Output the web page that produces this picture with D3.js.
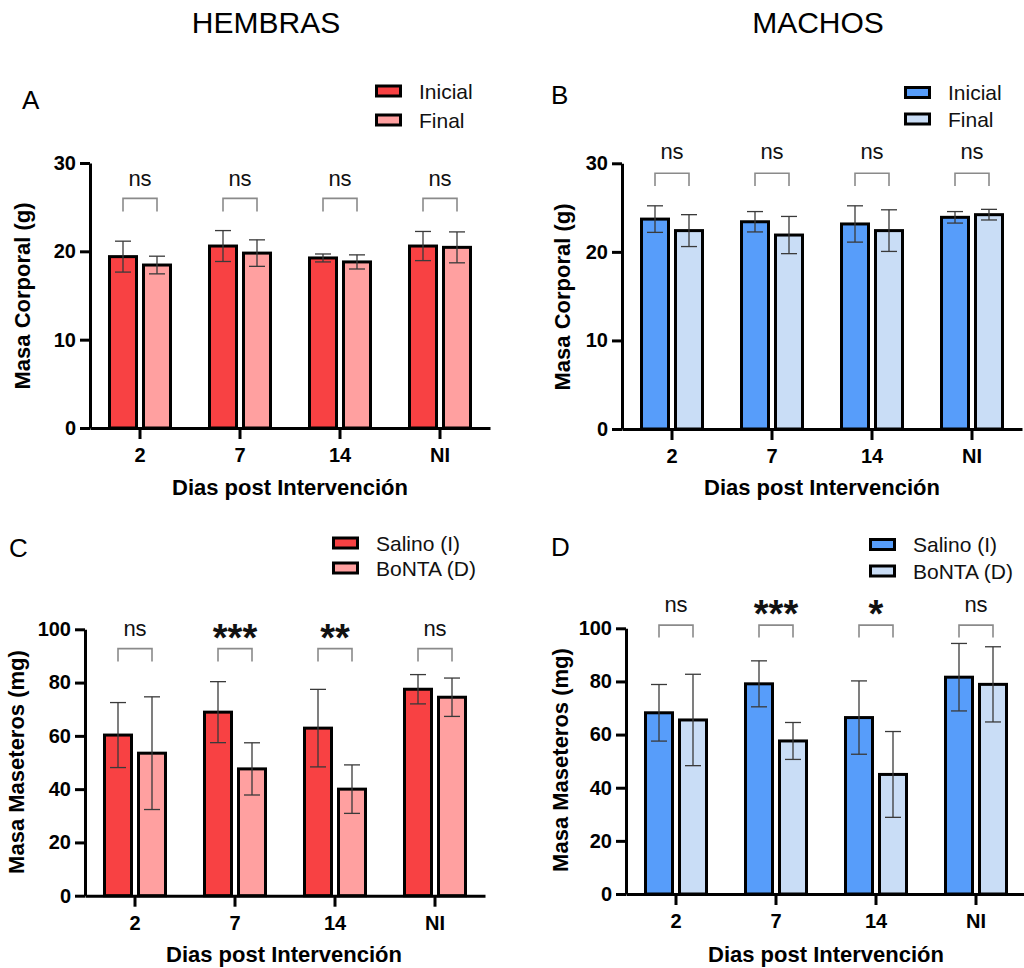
<!DOCTYPE html>
<html>
<head>
<meta charset="utf-8">
<script src="https://cdn.jsdelivr.net/npm/d3@7"></script>
<style>
  body { margin: 0; background: #fff; }
  svg { display: block; }
  text { font-family: "Liberation Sans", Arial, sans-serif; }
</style>
</head>
<body>
<svg id="chart" width="1024" height="968"></svg>
<script>
// categorias (dias post intervencion)
const days = ["2", "7", "14", "NI"];

// A - hembras, masa corporal (g)
const hemIniMean = [19.4, 20.6, 19.25, 20.6];
const hemIniSd   = [1.75, 1.75, 0.45, 1.65];
const hemFinMean = [18.45, 19.8, 18.8, 20.45];
const hemFinSd   = [1.0, 1.5, 0.8, 1.75];
const sigA = ["ns", "ns", "ns", "ns"];

// B - machos, masa corporal (g)
const macIniMean = [23.7, 23.4, 23.15, 23.9];
const macIniSd   = [1.5, 1.15, 2.05, 0.65];
const macFinMean = [22.4, 21.9, 22.4, 24.2];
const macFinSd   = [1.8, 2.1, 2.35, 0.6];
const sigB = ["ns", "ns", "ns", "ns"];

// C - hembras, masa maseteros (mg)
const hemSalMean = [60.3, 68.9, 62.9, 77.5];
const hemSalSd   = [12.2, 11.45, 14.55, 5.5];
const hemBonMean = [53.5, 47.6, 40.0, 74.5];
const hemBonSd   = [21.15, 9.8, 9.1, 7.2];
const sigC = ["ns", "***", "**", "ns"];

// D - machos, masa maseteros (mg)
const macSalMean = [68.2, 79.1, 66.4, 81.6];
const macSalSd   = [10.65, 8.65, 13.8, 12.7];
const macBonMean = [65.5, 57.6, 45.0, 78.9];
const macBonSd   = [17.2, 6.95, 16.15, 14.15];
const sigD = ["ns", "***", "*", "ns"];

const ticksMasa = [0, 10, 20, 30];
const ticksMaset = [0, 20, 40, 60, 80, 100];

const RED = "#f84143", PINK = "#ffa0a0", BLUE = "#579dfa", LBLUE = "#c9ddf6";

const svg = d3.select("#chart");

svg.append("text").attr("x", 266).attr("y", 33).attr("text-anchor", "middle")
  .attr("font-size", 30).text("HEMBRAS");
svg.append("text").attr("x", 818).attr("y", 33).attr("text-anchor", "middle")
  .attr("font-size", 30).text("MACHOS");

function drawPanel(p) {
  const g = svg.append("g");
  const x = d3.scaleBand().domain(days).range([p.x0, p.x0 + 400]);
  const y = d3.scaleLinear().domain([0, p.max]).range([p.y0, p.yTop]);
  const bw = 27;

  const series = [
    { mean: p.m1, sd: p.s1, fill: p.c1, off: -17 },
    { mean: p.m2, sd: p.s2, fill: p.c2, off: 17 }
  ];

  series.forEach(s => {
    const cx = (i) => x(days[i]) + x.bandwidth() / 2 + s.off;
    g.selectAll(null).data(s.mean).join("rect")
      .attr("x", (d, i) => cx(i) - bw / 2)
      .attr("y", d => y(d))
      .attr("width", bw)
      .attr("height", d => p.y0 - y(d))
      .attr("fill", s.fill)
      .attr("stroke", "#000")
      .attr("stroke-width", 3);

    // barras de error (media +- DE)
    const eb = g.selectAll(null).data(s.mean).join("g").attr("stroke", "#3a3a3a").attr("stroke-width", 1.3);
    eb.append("line")
      .attr("x1", (d, i) => cx(i)).attr("x2", (d, i) => cx(i))
      .attr("y1", (d, i) => y(d + s.sd[i])).attr("y2", (d, i) => y(d - s.sd[i]));
    eb.append("line")
      .attr("x1", (d, i) => cx(i) - 8).attr("x2", (d, i) => cx(i) + 8)
      .attr("y1", (d, i) => y(d + s.sd[i])).attr("y2", (d, i) => y(d + s.sd[i]));
    eb.append("line")
      .attr("x1", (d, i) => cx(i) - 8).attr("x2", (d, i) => cx(i) + 8)
      .attr("y1", (d, i) => y(d - s.sd[i])).attr("y2", (d, i) => y(d - s.sd[i]));
  });

  // corchetes de significancia
  const br = g.selectAll(".br").data(p.sig).join("g").attr("class", "br");
  br.append("path")
    .attr("d", (d, i) => {
      const c = x(days[i]) + x.bandwidth() / 2;
      return `M${c - 17},${y(p.legY)}V${y(p.brY)}H${c + 17}V${y(p.legY)}`;
    })
    .attr("fill", "none").attr("stroke", "#8a8a8a").attr("stroke-width", 1.6);
  br.append("text")
    .attr("x", (d, i) => x(days[i]) + x.bandwidth() / 2)
    .attr("y", d => d === "ns" ? y(p.txtY) : y(p.txtY) + 15)
    .attr("text-anchor", "middle")
    .attr("font-size", d => d === "ns" ? 22 : 38)
    .attr("font-weight", d => d === "ns" ? "normal" : "bold")
    .attr("fill", "#111")
    .text(d => d);

  // ejes
  const ya = g.append("g").attr("transform", `translate(${p.x0},0)`)
    .call(d3.axisLeft(y).tickValues(p.ticks).tickSize(10).tickSizeOuter(0).tickPadding(4));
  const xa = g.append("g").attr("transform", `translate(0,${p.y0})`)
    .call(d3.axisBottom(x).tickSize(11).tickSizeOuter(0).tickPadding(9));
  [ya, xa].forEach(a => {
    a.select(".domain").attr("stroke", "#000").attr("stroke-width", 3);
    a.selectAll(".tick line").attr("stroke", "#000").attr("stroke-width", 3);
    a.selectAll(".tick text").attr("font-size", 20).attr("font-weight", "bold")
      .attr("font-family", "'Liberation Sans', Arial, sans-serif").attr("fill", "#000");
  });

  // titulos de ejes
  g.append("text").attr("x", p.xtX).attr("y", p.xtY).attr("text-anchor", "middle")
    .attr("font-size", 22).attr("font-weight", "bold").text("Dias post Intervención");
  g.append("text").attr("transform", `translate(${p.ytX + 6},${p.ytY}) rotate(-90)`)
    .attr("text-anchor", "middle").attr("font-size", 22).attr("font-weight", "bold").text(p.yLabel);

  // letra del panel
  g.append("text").attr("x", p.lx).attr("y", p.ly).attr("font-size", 26).text(p.letter);

  // leyenda
  const lg = g.selectAll(".lg").data([[p.c1, p.n1, p.lgY1], [p.c2, p.n2, p.lgY2]]).join("g").attr("class", "lg");
  lg.append("rect").attr("x", p.lgX + 1.5).attr("y", d => d[2] - 5).attr("width", 24).attr("height", 10)
    .attr("fill", d => d[0]).attr("stroke", "#000").attr("stroke-width", 3);
  lg.append("text").attr("x", p.lgX + 44).attr("y", d => d[2] + 7.5).attr("font-size", 21)
    .attr("fill", "#111").text(d => d[1]);
}

drawPanel({
  x0: 90, y0: 428, yTop: 163, max: 30, ticks: ticksMasa,
  m1: hemIniMean, s1: hemIniSd, m2: hemFinMean, s2: hemFinSd, c1: RED, c2: PINK,
  n1: "Inicial", n2: "Final", sig: sigA, brY: 26.0, legY: 24.5, txtY: 27.4,
  yLabel: "Masa Corporal (g)", ytX: 24, ytY: 296, xtX: 290, xtY: 495,
  letter: "A", lx: 22, ly: 109, lgX: 375, lgY1: 91, lgY2: 120
});
drawPanel({
  x0: 622, y0: 429, yTop: 163.3, max: 30, ticks: ticksMasa,
  m1: macIniMean, s1: macIniSd, m2: macFinMean, s2: macFinSd, c1: BLUE, c2: LBLUE,
  n1: "Inicial", n2: "Final", sig: sigB, brY: 28.87, legY: 27.44, txtY: 30.45,
  yLabel: "Masa Corporal (g)", ytX: 564, ytY: 297, xtX: 822, xtY: 495,
  letter: "B", lx: 551, ly: 104, lgX: 904, lgY1: 92.5, lgY2: 119
});
drawPanel({
  x0: 85, y0: 895.7, yTop: 629.3, max: 100, ticks: ticksMaset,
  m1: hemSalMean, s1: hemSalSd, m2: hemBonMean, s2: hemBonSd, c1: RED, c2: PINK,
  n1: "Salino (I)", n2: "BoNTA (D)", sig: sigC, brY: 92.75, legY: 87.9, txtY: 97.5,
  yLabel: "Masa Maseteros (mg)", ytX: 18, ytY: 762, xtX: 284, xtY: 962,
  letter: "C", lx: 9, ly: 557, lgX: 332, lgY1: 543, lgY2: 568
});
drawPanel({
  x0: 626, y0: 894, yTop: 628.3, max: 100, ticks: ticksMaset,
  m1: macSalMean, s1: macSalSd, m2: macBonMean, s2: macBonSd, c1: BLUE, c2: LBLUE,
  n1: "Salino (I)", n2: "BoNTA (D)", sig: sigD, brY: 101.2, legY: 96.5, txtY: 106.2,
  yLabel: "Masa Maseteros (mg)", ytX: 562, ytY: 760, xtX: 826, xtY: 962,
  letter: "D", lx: 551, ly: 556, lgX: 869, lgY1: 544.5, lgY2: 571
});
</script>
</body>
</html>
